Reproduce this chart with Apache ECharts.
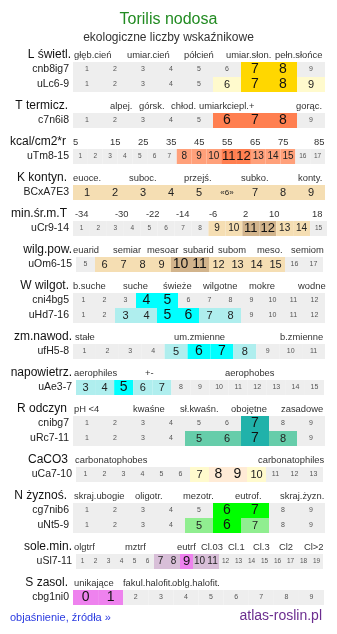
<!DOCTYPE html>
<html><head><meta charset="utf-8">
<script src="https://cdn.jsdelivr.net/npm/echarts@6/dist/echarts.min.js"></script>
<style>html,body{margin:0;padding:0;background:#fff}#c{width:337px;height:634px}</style>
</head><body><div id="c"></div>
<script>
// ---- data ----
const titleText = 'Torilis nodosa';
const subtitleText = 'ekologiczne liczby wskaźnikowe';
const sectionNames = ['L świetl.','T termicz.','kcal/cm2*r','K kontyn.','min.śr.m.T','wilg.pow.','W wilgot.','zm.nawod.','napowietrz.','R odczyn','CaCO3','N żyznoś.','sole.min.','S zasol.'];
const sectionHeaders = [
  ['głęb.cień','umiar.cień','półcień','umiar.słon.','pełn.słońce'],
  ['alpej.','górsk.','chłod.','umiark.','ciepl.+','gorąc.'],
  ['5','15','25','35','45','55','65','75','85'],
  ['euoce.','suboc.','przejś.','subko.','konty.'],
  ['-34','-30','-22','-14','-6','2','10','18'],
  ['euarid','semiar','mesoar','subarid','subom','meso.','semiom'],
  ['b.suche','suche','świeże','wilgotne','mokre','wodne'],
  ['stałe','um.zmienne','b.zmienne'],
  ['aerophiles','+-','aerophobes'],
  ['pH <4','kwaśne','sł.kwaśn.','obojętne','zasadowe'],
  ['carbonatophobes','carbonatophiles'],
  ['skraj.ubogie','oligotr.','mezotr.','eutrof.','skraj.żyzn.'],
  ['olgtrf','mztrf','eutrf','Cl.03','Cl.1','Cl.3','Cl2','Cl>2'],
  ['unikające','fakul.halofit.','oblg.halofit.']
];
const rowNames = ['cnb8ig7','uLc6-9','c7n6i8','uTm8-15','BCxA7E3','uCr9-14','uOm6-15','cni4bg5','uHd7-16','ufH5-8','uAe3-7','cnibg7','uRc7-11','uCa7-10','cg7nib6','uNt5-9','uSl7-11','cbg1ni0'];
const rowCells = [
  ['1','2','3','4','5','6','7','8','9'],
  ['1','2','3','4','5','6','7','8','9'],
  ['1','2','3','4','5','6','7','8','9'],
  ['1','2','3','4','5','6','7','8','9','10','11','12','13','14','15','16','17'],
  ['1','2','3','4','5','«6»','7','8','9'],
  ['1','2','3','4','5','6','7','8','9','10','11','12','13','14','15'],
  ['5','6','7','8','9','10','11','12','13','14','15','16','17'],
  ['1','2','3','4','5','6','7','8','9','10','11','12'],
  ['1','2','3','4','5','6','7','8','9','10','11','12'],
  ['1','2','3','4','5','6','7','8','9','10','11'],
  ['3','4','5','6','7','8','9','10','11','12','13','14','15'],
  ['1','2','3','4','5','6','7','8','9'],
  ['1','2','3','4','5','6','7','8','9'],
  ['1','2','3','4','5','6','7','8','9','10','11','12','13'],
  ['1','2','3','4','5','6','7','8','9'],
  ['1','2','3','4','5','6','7','8','9'],
  ['1','2','3','4','5','6','7','8','9','10','11','12','13','14','15','16','17','18','19'],
  ['0','1','2','3','4','5','6','7','8','9']
];
// 0 = outside range, 1 = range, 2 = optimum
const rowLevels = [
  [0,0,0,0,0,0,2,2,0],
  [0,0,0,0,0,1,2,2,1],
  [0,0,0,0,0,2,2,2,0],
  [0,0,0,0,0,0,0,1,1,1,2,2,1,1,1,0,0],
  [1,1,1,1,1,1,1,1,1],
  [0,0,0,0,0,0,0,0,1,1,2,2,1,1,0],
  [0,1,1,1,1,2,2,1,1,1,1,0,0],
  [0,0,0,2,2,0,0,0,0,0,0,0],
  [0,0,1,1,2,2,1,1,0,0,0,0],
  [0,0,0,0,1,2,2,1,0,0,0],
  [1,1,2,1,1,0,0,0,0,0,0,0,0],
  [0,0,0,0,0,0,2,0,0],
  [0,0,0,0,1,1,2,1,0],
  [0,0,0,0,0,0,1,2,2,1,0,0,0],
  [0,0,0,0,0,2,2,0,0],
  [0,0,0,0,1,2,1,0,0],
  [0,0,0,0,0,0,1,1,2,1,1,0,0,0,0,0,0,0,0],
  [2,2,0,0,0,0,0,0,0,0]
];
const footerLeft = 'objaśnienie, źródła »';
const footerRight = 'atlas-roslin.pl';

// ---- layout & style ----
const FONT = '"Liberation Sans", Arial, sans-serif';
const rowTop   = [62,77,113,149,185,221,257,293,308,344,380,416,431,467,503,518,554,590];
const rowLeft  = [73,73,73,73,73,73,76,73,73,73,76,73,73,76,73,73,76,73];
const rowRight = [325,325,325,325,325,327,323,325,325,325,324,325,325,323,325,325,323,324];
const rowColors = [
  ['#FFFACD','#FFD700'],['#FFFACD','#FFD700'],
  ['#FFA07A','#FF7F50'],['#FFA07A','#FF7F50'],
  ['#F5DEB3','#D2B48C'],['#F5DEB3','#D2B48C'],['#F5DEB3','#D2B48C'],
  ['#AFEEEE','#00FFFF'],['#AFEEEE','#00FFFF'],['#AFEEEE','#00FFFF'],['#AFEEEE','#00FFFF'],
  ['#66CDAA','#20B2AA'],['#66CDAA','#20B2AA'],
  ['#FFFACD','#FFEBD6'],
  ['#90EE90','#00FF00'],['#90EE90','#00FF00'],
  ['#D8BFD8','#EE82EE'],['#D8BFD8','#EE82EE']
];
const GRAY = '#EEEEEE';
const levelFontWide = [7, 11, 14];
const levelFontNarrow = [6.5, 10, 13];
const levelText = ['#555','#222','#111'];
const sectionRow = [0,2,3,4,5,6,7,9,10,11,13,14,16,17];
const sectionRight = [71,68,66,67,67,72,69,72,72,67,68,67,72,68];
const headerX = [
  [74,127,184,226,275],
  [110,139,171,199,227,296],
  [73,110,138,166,194,222,250,278,314],
  [73,129,184,241,298],
  [75,115,146,176,209,243,269,312],
  [73,113,147,183,218,257,291],
  [73,123,163,203,249,298],
  [75,174,280],
  [74,145,225],
  [74,133,180,231,281],
  [75,258],
  [74,135,183,235,280],
  [74,125,177,201,228,253,279,304],
  [74,123,172]
];

function txt(x, y, text, size, fill, align) {
  return { type: 'text', x: x, y: y, silent: true,
    style: { text: text, font: size + 'px ' + FONT, fill: fill,
      align: align, verticalAlign: 'middle', textAlign: align, textVerticalAlign: 'middle' } };
}

const grids = [], xAxes = [], yAxes = [], series = [], graphics = [];
graphics.push(txt(168.5, 20, titleText, 16, '#228B22', 'center'));
graphics.push(txt(168.5, 38, subtitleText, 12, '#333', 'center'));

rowNames.forEach((name, i) => {
  const w = rowRight[i] - rowLeft[i];
  const narrow = w / rowCells[i].length < 17;
  const fonts = narrow ? levelFontNarrow : levelFontWide;
  grids.push({ left: rowLeft[i], top: rowTop[i], width: w, height: 15 });
  xAxes.push({ type: 'category', gridIndex: i, data: rowCells[i], show: false, boundaryGap: true });
  yAxes.push({ type: 'value', gridIndex: i, min: 0, max: 1, show: false });
  series.push({
    type: 'bar', xAxisIndex: i, yAxisIndex: i, barCategoryGap: '0%', barGap: '0%',
    silent: true, animation: false,
    data: rowLevels[i].map((lv, j) => {
      const isSmall = rowCells[i][j] === '«6»';
      return {
        value: 1,
        itemStyle: { color: lv === 0 ? GRAY : rowColors[i][lv - 1] },
        label: { fontSize: isSmall ? 8 : fonts[lv], color: levelText[lv] }
      };
    }),
    label: { show: true, position: 'inside', fontFamily: FONT,
      formatter: p => p.name }
  });
  graphics.push(txt(rowLeft[i] - 4, rowTop[i] + 7.5, name, 10.5, '#222', 'right'));
});

sectionNames.forEach((s, k) => {
  const y = rowTop[sectionRow[k]] - 7.5;
  graphics.push(txt(sectionRight[k], y, s, 12, '#111', 'right'));
  sectionHeaders[k].forEach((h, j) => {
    graphics.push(txt(headerX[k][j], y + 0.5, h, 9.4, '#333', 'left'));
  });
});

graphics.push(txt(10, 618, footerLeft, 11, '#2a3ae0', 'left'));
graphics.push(txt(322, 616, footerRight, 14, '#6B2D8F', 'right'));

const chart = echarts.init(document.getElementById('c'), null, { renderer: 'canvas' });
chart.setOption({
  animation: false,
  backgroundColor: '#fff',
  grid: grids, xAxis: xAxes, yAxis: yAxes, series: series,
  graphic: graphics
});
</script></body></html>
